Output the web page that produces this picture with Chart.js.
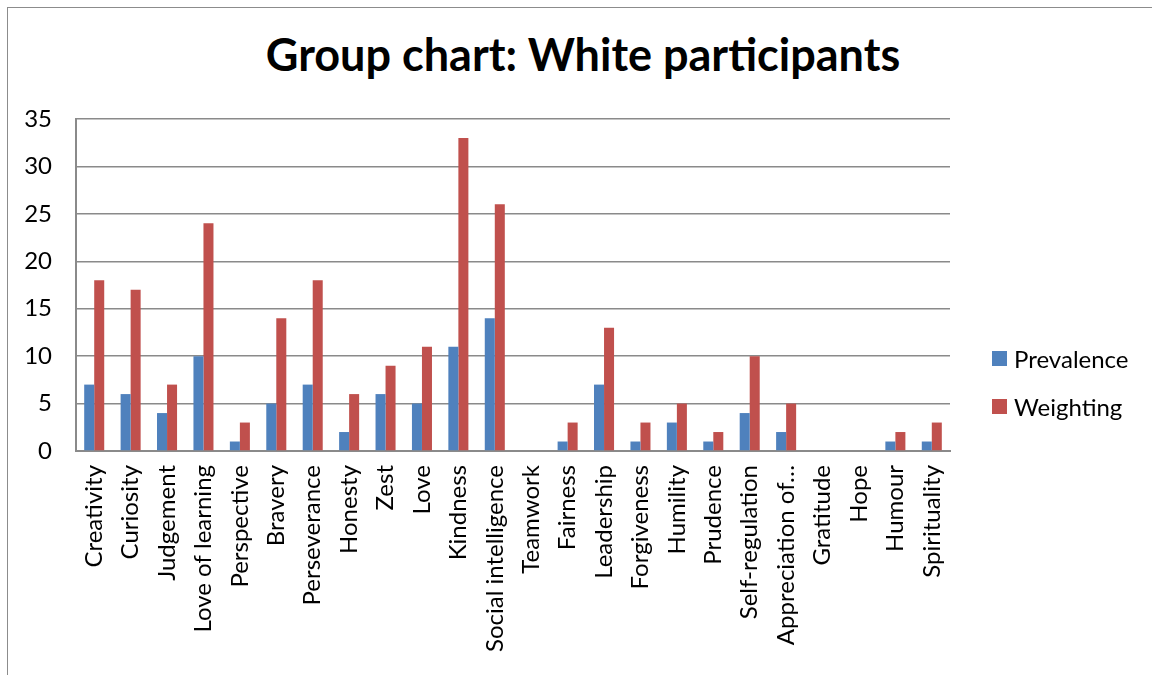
<!DOCTYPE html>
<html>
<head>
<meta charset="utf-8">
<script src="https://cdn.jsdelivr.net/npm/chart.js@4"></script>
<style>
  body { margin: 0; background: #fff; }
  #wrap { position: relative; width: 1152px; height: 675px; overflow: hidden; }
  #frame { position: absolute; left: 7px; top: 7px; width: 1200px; height: 700px;
           border-left: 1px solid #8c8c8c; border-top: 1px solid #8c8c8c; }
  #title { position: absolute; left: 0; width: 1166px; top: 27px; text-align: center;
           font-family: Lato, sans-serif; font-weight: bold; font-size: 45px; color: #000; }
  .legend { position: absolute; left: 992px; height: 30px; display: flex; align-items: center;
            font-family: Lato, sans-serif; font-size: 24px; color: #000; }
  .legend span { display: inline-block; width: 15px; height: 15px; margin-right: 7px; }
  canvas { position: absolute; left: 0; top: 0; }
</style>
</head>
<body>
<div id="wrap">
  <div id="frame"></div>
  <div id="title">Group chart: White participants</div>
  <canvas id="chart" width="1152" height="675"></canvas>
  <div class="legend" style="top:343px"><span style="background:#4F81BD"></span>Prevalence</div>
  <div class="legend" style="top:391px"><span style="background:#C0504D"></span>Weighting</div>
</div>
<script>
// Categories (character strengths)
const categories = ['Creativity', 'Curiosity', 'Judgement', 'Love of learning', 'Perspective', 'Bravery',
  'Perseverance', 'Honesty', 'Zest', 'Love', 'Kindness', 'Social intelligence', 'Teamwork', 'Fairness',
  'Leadership', 'Forgiveness', 'Humility', 'Prudence', 'Self-regulation', 'Appreciation of…',
  'Gratitude', 'Hope', 'Humour', 'Spirituality'];

// Series values
const prevalence = [7, 6, 4, 10, 1, 5, 7, 2, 6, 5, 11, 14, 0, 1, 7, 1, 3, 1, 4, 2, 0, 0, 1, 1];
const weighting = [18, 17, 7, 24, 3, 14, 18, 6, 9, 11, 33, 26, 0, 3, 13, 3, 5, 2, 10, 5, 0, 0, 2, 3];

// Y axis ticks
const yMin = 0;
const yMax = 35;
const yStep = 5;

const gridColor = '#8a8a8a';
const fontFamily = 'Lato, sans-serif';

const ctx = document.getElementById('chart').getContext('2d');
new Chart(ctx, {
  type: 'bar',
  data: {
    labels: categories,
    datasets: [
      { label: 'Prevalence', data: prevalence, backgroundColor: '#4F81BD' },
      { label: 'Weighting', data: weighting, backgroundColor: '#C0504D' }
    ]
  },
  options: {
    responsive: false,
    animation: false,
    layout: { padding: { left: 16, top: 119, right: 202, bottom: 0 } },
    plugins: { legend: { display: false }, title: { display: false }, tooltip: { enabled: false } },
    datasets: { bar: { categoryPercentage: 0.55, barPercentage: 1.0 } },
    scales: {
      x: {
        grid: { display: false, drawTicks: false },
        border: { display: true, color: gridColor, width: 2 },
        ticks: {
          color: '#000', font: { family: fontFamily, size: 24 },
          minRotation: 90, maxRotation: 90, autoSkip: false, padding: 14
        },
        afterFit(scale) { scale.height = 224; }
      },
      y: {
        min: yMin, max: yMax,
        grid: { color: gridColor, lineWidth: 1.5, drawTicks: false },
        border: { display: true, color: gridColor, width: 2 },
        ticks: { stepSize: yStep, color: '#000', font: { family: fontFamily, size: 24 }, padding: 24 },
        afterFit(scale) { scale.width = 60; }
      }
    }
  }
});
</script>
</body>
</html>
